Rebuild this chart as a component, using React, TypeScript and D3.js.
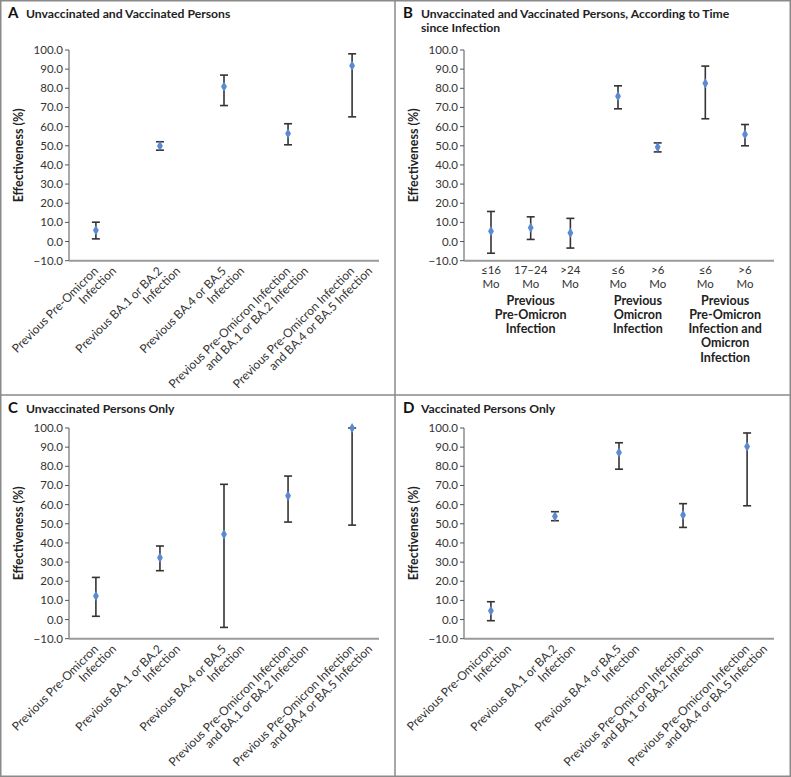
import React from "react";
import * as d3 from "d3";

// ---------- DATA ----------
const yTicks = [-10, 0, 10, 20, 30, 40, 50, 60, 70, 80, 90, 100];

const mainCategories: string[][] = [
  ["Previous Pre-Omicron", "Infection"],
  ["Previous BA.1 or BA.2", "Infection"],
  ["Previous BA.4 or BA.5", "Infection"],
  ["Previous Pre-Omicron Infection", "and BA.1 or BA.2 Infection"],
  ["Previous Pre-Omicron Infection", "and BA.4 or BA.5 Infection"],
];

const aEst = [5.9, 49.9, 80.9, 56.4, 91.8];
const aLow = [1.4, 47.7, 71.0, 50.5, 65.1];
const aHigh = [10.1, 52.1, 86.9, 61.5, 98.0];

const bCategories: string[][] = [
  ["≤16", "Mo"],
  ["17–24", "Mo"],
  [">24", "Mo"],
  ["≤6", "Mo"],
  [">6", "Mo"],
  ["≤6", "Mo"],
  [">6", "Mo"],
];
const bGroupOf = [0, 0, 0, 1, 1, 2, 2];
const bGroups: string[][] = [
  ["Previous", "Pre-Omicron", "Infection"],
  ["Previous", "Omicron", "Infection"],
  ["Previous", "Pre-Omicron", "Infection and", "Omicron", "Infection"],
];
const bEst = [5.4, 7.2, 4.5, 75.9, 49.3, 82.6, 55.9];
const bLow = [-6.1, 1.1, -3.4, 69.3, 46.8, 64.1, 50.0];
const bHigh = [15.7, 12.9, 12.1, 81.3, 51.5, 91.6, 61.1];

const cEst = [12.3, 32.3, 44.5, 64.6, 100.0];
const cLow = [1.7, 25.5, -4.1, 50.9, 49.3];
const cHigh = [22.0, 38.4, 70.6, 74.9, 100.0];

const dEst = [4.6, 53.9, 87.2, 54.6, 90.3];
const dLow = [-0.6, 51.6, 78.5, 48.1, 59.4];
const dHigh = [9.3, 56.3, 92.3, 60.5, 97.4];

// ---------- STYLE ----------
const FONT = "Lato, 'Open Sans', sans-serif";
const BORDER = "#8a8a8a";
const INK = "#333";
const DOT = "#5b8ad2";

const AX_LEFT = 69;
const AX_RIGHT = 379;

type PanelProps = {
  ox: number;
  oy: number;
  letter: string;
  title: string[];
  top: number;
  bottom: number;
  est: number[];
  low: number[];
  high: number[];
  xs: number[];
  children?: React.ReactNode;
};

function Panel({ ox, oy, letter, title, top, bottom, est, low, high, xs, children }: PanelProps) {
  const y = d3.scaleLinear().domain([-10, 100]).range([bottom, top]);
  const diamond = d3.symbol().type(d3.symbolDiamond).size(30)() as string;
  return (
    <g transform={`translate(${ox},${oy})`} fontFamily={FONT}>
      <text x={8} y={18} fontSize={15} fontWeight={700} fill="#111">{letter}</text>
      {title.map((t, i) => (
        <text key={i} x={26} y={18 + i * 14.3} fontSize={12.2} fontWeight={700} fill="#222">{t}</text>
      ))}
      {/* y axis */}
      <line x1={AX_LEFT} x2={AX_LEFT} y1={y(100)} y2={y(-10)} stroke="#555" strokeWidth={1} />
      {yTicks.map((t) => (
        <g key={t} transform={`translate(0,${y(t)})`}>
          <line x1={AX_LEFT - 4} x2={AX_LEFT} stroke="#555" strokeWidth={1} />
          <text x={AX_LEFT - 6} dy="0.35em" textAnchor="end" fontSize={11.5} fill={INK}>
            {(t < 0 ? "\u2212" : "") + Math.abs(t).toFixed(1)}
          </text>
        </g>
      ))}
      {/* x axis */}
      <line x1={AX_LEFT} x2={AX_RIGHT} y1={y(-10)} y2={y(-10)} stroke="#9a9a9a" strokeWidth={2} />
      <text
        transform={`translate(23,${(y(100) + y(-10)) / 2}) rotate(-90)`}
        textAnchor="middle"
        fontSize={12.5}
        fontWeight={700}
        fill="#222"
      >
        Effectiveness (%)
      </text>
      {/* error bars */}
      {est.map((v, i) => (
        <g key={i}>
          <line x1={xs[i]} x2={xs[i]} y1={y(low[i])} y2={y(high[i])} stroke={INK} strokeWidth={1.6} />
          <line x1={xs[i] - 4} x2={xs[i] + 4} y1={y(low[i])} y2={y(low[i])} stroke={INK} strokeWidth={1.6} />
          <line x1={xs[i] - 4} x2={xs[i] + 4} y1={y(high[i])} y2={y(high[i])} stroke={INK} strokeWidth={1.6} />
          <path d={diamond} transform={`translate(${xs[i]},${y(v)})`} fill={DOT} />
        </g>
      ))}
      {children}
    </g>
  );
}

function RotatedLabels({ xs, bottom }: { xs: number[]; bottom: number }) {
  return (
    <g fontFamily={FONT} fontSize={12} fill={INK}>
      {mainCategories.map((lines, i) => (
        <g key={i}>
          {lines.map((l, j) => (
            <text
              key={j}
              transform={`translate(${xs[i] + 3 + j * 18},${bottom + 11}) rotate(-45)`}
              textAnchor="end"
            >
              {l}
            </text>
          ))}
        </g>
      ))}
    </g>
  );
}

export default function App() {
  const W = 791;
  const H = 777;
  const mainX = d3
    .scalePoint<number>()
    .domain(d3.range(mainCategories.length))
    .range([AX_LEFT, AX_RIGHT])
    .padding(0.42);
  const xsMain = d3.range(mainCategories.length).map((i) => mainX(i) as number);

  // panel B: slots with gaps between groups
  const bSlot = bCategories.map((_, i) => i + bGroupOf[i] * 0.2);
  const bX = d3.scaleLinear().domain([0, d3.max(bSlot) as number]).range([96, 350]);
  const xsB = bSlot.map((s) => bX(s));
  const groupCenters = bGroups.map((_, g) => {
    const idx = bGroupOf.map((gg, i) => (gg === g ? i : -1)).filter((i) => i >= 0);
    return d3.mean(idx.map((i) => xsB[i])) as number;
  });

  const topAB = 50;
  const botAB = 260.7;
  const topCD = 33;
  const botCD = 243.7;

  return (
    <svg width={W} height={H} style={{ position: "absolute", left: 0, top: 0, background: "#fff" }}>
      <rect x={0} y={0} width={W} height={H} fill="#fff" />
      <Panel ox={0} oy={0} letter="A" title={["Unvaccinated and Vaccinated Persons"]} top={topAB} bottom={botAB}
        est={aEst} low={aLow} high={aHigh} xs={xsMain}>
        <RotatedLabels xs={xsMain} bottom={botAB} />
      </Panel>
      <Panel ox={395} oy={0} letter="B"
        title={["Unvaccinated and Vaccinated Persons, According to Time", "since Infection"]}
        top={topAB} bottom={botAB} est={bEst} low={bLow} high={bHigh} xs={xsB}>
        <g fontFamily={FONT} fill={INK}>
          {bCategories.map((lines, i) =>
            lines.map((l, j) => (
              <text key={i + "-" + j} x={xsB[i]} y={botAB + 13 + j * 14} textAnchor="middle" fontSize={11.5}>
                {l}
              </text>
            ))
          )}
          {bGroups.map((lines, g) =>
            lines.map((l, j) => (
              <text key={g + "-" + j} x={groupCenters[g]} y={botAB + 44 + j * 14.2} textAnchor="middle"
                fontSize={12.5} fontWeight={700} fill="#222">
                {l}
              </text>
            ))
          )}
        </g>
      </Panel>
      <Panel ox={0} oy={395} letter="C" title={["Unvaccinated Persons Only"]} top={topCD} bottom={botCD}
        est={cEst} low={cLow} high={cHigh} xs={xsMain}>
        <RotatedLabels xs={xsMain} bottom={botCD} />
      </Panel>
      <Panel ox={395} oy={395} letter="D" title={["Vaccinated Persons Only"]} top={topCD} bottom={botCD}
        est={dEst} low={dLow} high={dHigh} xs={xsMain}>
        <RotatedLabels xs={xsMain} bottom={botCD} />
      </Panel>
      {/* frame */}
      <rect x={0.75} y={0.75} width={W - 1.5} height={H - 1.5} fill="none" stroke={BORDER} strokeWidth={1.5} />
      <line x1={395} x2={395} y1={0} y2={H} stroke={BORDER} strokeWidth={1.5} />
      <line x1={0} x2={W} y1={395} y2={395} stroke={BORDER} strokeWidth={1.5} />
    </svg>
  );
}
